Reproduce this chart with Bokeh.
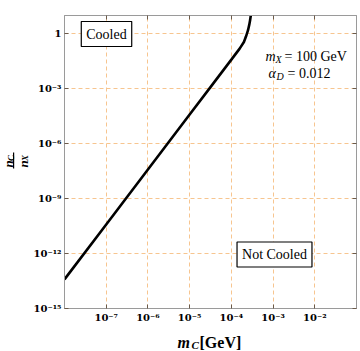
from bokeh.plotting import figure
from bokeh.layouts import row, column
from bokeh.models import (FixedTicker, LogAxis, Label, Range1d, CustomJSTickFormatter,
                          BoxAnnotation)
from bokeh.embed import file_html
from bokeh.resources import INLINE
import math

# data
m_c = [1e-8, 1e-7, 1e-6, 1e-5, 3.16e-5, 1e-4, 1.58e-4, 2.0e-4, 2.24e-4,
       2.51e-4, 2.69e-4, 2.82e-4, 2.92e-4, 2.99e-4]
ratio = [3.9e-14, 3.9e-11, 3.9e-8, 3.9e-5, 1.23e-3, 3.9e-2, 0.155, 0.355, 0.71,
         1.58, 3.16, 5.6, 10.0, 20.0]
x_ticks = [1e-7, 1e-6, 1e-5, 1e-4, 1e-3, 1e-2]
x_tick_labels = ["10⁻⁷", "10⁻⁶", "10⁻⁵", "10⁻⁴", "10⁻³", "10⁻²"]
y_ticks = [1e-15, 1e-12, 1e-9, 1e-6, 1e-3, 1.0]
y_tick_labels = ["10⁻¹⁵", "10⁻¹²", "10⁻⁹", "10⁻⁶", "10⁻³", "1"]

SERIF = "Liberation Serif"
TICKFONT = "DejaVu Serif"
GRID = "#f7c58f"
AX = "#9a9a9a"

p = figure(width=330, height=331, x_axis_type="log", y_axis_type="log",
           x_range=Range1d(1e-8, 1e-1), y_range=Range1d(1e-15, 10),
           output_backend="svg", toolbar_location=None,
           min_border_left=33, min_border_right=4, min_border_top=15, min_border_bottom=23)

code = """
for (let i = 0; i < tv.length; i++) {
  if (Math.abs(Math.log10(tick) - Math.log10(tv[i])) < 0.01) return tl[i];
}
return "";
"""
fx = CustomJSTickFormatter(args=dict(tv=x_ticks, tl=x_tick_labels), code=code)
fy = CustomJSTickFormatter(args=dict(tv=y_ticks, tl=y_tick_labels), code=code)

for ax, t, f in ((p.xaxis[0], x_ticks, fx), (p.yaxis[0], y_ticks, fy)):
    ax.ticker = FixedTicker(ticks=t)
    ax.formatter = f
    ax.major_label_text_font = TICKFONT
    ax.major_label_text_font_style = "bold"
    ax.major_label_text_font_size = "10px"
    ax.major_label_text_color = "black"
    ax.axis_line_color = AX
    ax.major_tick_line_color = "#6b5a4a"
    ax.major_tick_in = 4
    ax.major_tick_out = 0
    ax.minor_tick_line_color = None
    ax.major_label_standoff = 3

for loc, t in (("above", x_ticks), ("right", y_ticks)):
    a = LogAxis(ticker=FixedTicker(ticks=t), major_label_text_font_size="1px",
                major_label_text_alpha=0,
                major_label_standoff=0, major_tick_in=4, major_tick_out=0,
                minor_tick_line_color=None, axis_line_color=AX,
                major_tick_line_color="#6b5a4a")
    p.add_layout(a, loc)

p.xgrid.ticker = FixedTicker(ticks=x_ticks)
p.ygrid.ticker = FixedTicker(ticks=y_ticks)
for g in (p.xgrid[0], p.ygrid[0]):
    g.grid_line_color = GRID
    g.grid_line_dash = "4 3"
    g.grid_line_width = 1
p.outline_line_color = AX
p.background_fill_color = "white"

p.line(m_c, ratio, line_color="black", line_width=2.6)


def lab(fig, x, y, text, size="13px", style="normal", align="left", baseline="alphabetic",
        angle=0.0, box=False, pad=0):
    l = Label(x=x, y=y, x_units="screen", y_units="screen", text=text,
              text_font=SERIF, text_font_size=size, text_font_style=style,
              text_align=align, text_baseline=baseline, angle=angle, text_color="black")
    if box:
        l.border_line_color = "black"
        l.border_line_width = 1.2
        l.background_fill_color = "white"
        l.padding = pad
    fig.add_layout(l)


# boxed region labels (frame-relative screen coords)
lab(p, 42, 274.5, "Cooled", size="14px", align="center", baseline="middle", box=True, pad=5)
lab(p, 210, 54, "Not Cooled", size="14px", align="center", baseline="middle", box=True, pad=5)

# parameters
lab(p, 201, 252, "m", size="14px", style="italic")
lab(p, 211, 249, "X", size="10px", style="italic")
lab(p, 220, 252, "= 100 GeV", size="14px")
lab(p, 204, 235, "α", size="14px", style="italic")
lab(p, 212, 232, "D", size="10px", style="italic")
lab(p, 223, 235, "= 0.012", size="14px")


def blank(w, h):
    f = figure(width=w, height=h, x_range=Range1d(0, 1), y_range=Range1d(0, 1),
               output_backend="svg", toolbar_location=None,
               x_axis_location=None, y_axis_location=None,
               min_border=0, min_border_left=0, min_border_right=0,
               min_border_top=0, min_border_bottom=0)
    f.outline_line_color = None
    f.xgrid.visible = False
    f.ygrid.visible = False
    return f


# x axis label strip (below the plot); its frame is aligned with the plot frame
xf = blank(330, 20)
lab(xf, 113, 9.5, "m", size="16px", style="bold italic")
lab(xf, 127, 6.5, "C", size="11px", style="bold italic")
lab(xf, 135, 9.5, "[GeV]", size="16px", style="bold")

# y axis label strip (left of the plot): rotated fraction
yf = blank(30, 351)
rot = math.pi / 2
lab(yf, 8, 184, "n", size="13px", style="bold italic", angle=rot)
lab(yf, 10, 190.5, "C", size="9px", style="bold italic", angle=rot)
yf.add_layout(BoxAnnotation(left=12.5, right=13.7, bottom=183, top=199,
                            left_units="screen", right_units="screen",
                            bottom_units="screen", top_units="screen",
                            fill_color="black", fill_alpha=1, line_color=None))
lab(yf, 22.5, 184, "n", size="13px", style="bold italic", angle=rot)
lab(yf, 24.5, 190.5, "X", size="9px", style="bold italic", angle=rot)

layout = row(yf, column(p, xf, spacing=0), spacing=0)

open("out.html", "w").write(file_html(layout, INLINE))
